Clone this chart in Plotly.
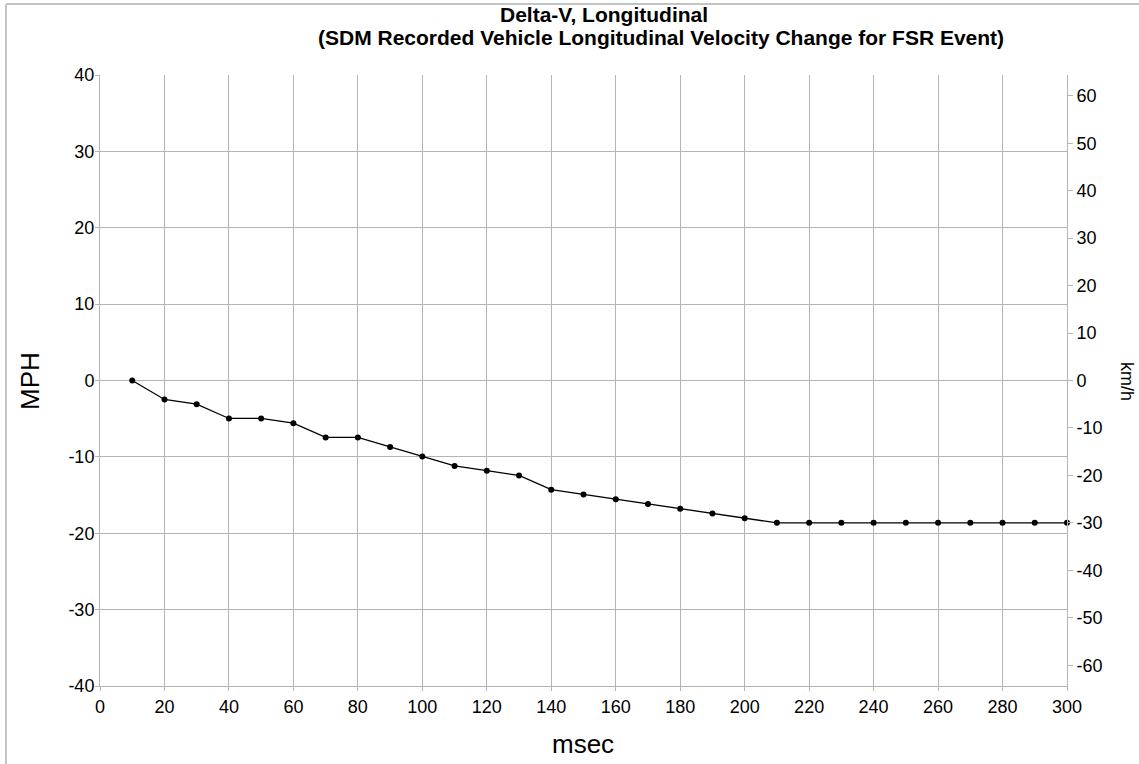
import plotly.graph_objects as go

# Data
time_ms = [10, 20, 30, 40, 50, 60, 70, 80, 90, 100, 110, 120, 130, 140, 150,
           160, 170, 180, 190, 200, 210, 220, 230, 240, 250, 260, 270, 280, 290, 300]
delta_v_kmh = [0, -4, -5, -8, -8, -9, -12, -12, -14, -16, -18, -19, -20, -23, -24,
               -25, -26, -27, -28, -29, -30, -30, -30, -30, -30, -30, -30, -30, -30, -30]
x_ticks = list(range(0, 301, 20))
mph_ticks = list(range(-40, 41, 10))
kmh_ticks = list(range(-60, 61, 10))

KMH_PER_MPH = 1.609344
W, H = 1139, 764
L, R, T, B = 100, 72, 74.5, 77.5
pw, ph = W - L - R, H - T - B

FONT = "Liberation Sans, Arial, sans-serif"
GRID = "#b4b4b4"


def px2paper_x(px):
    return (px - L) / pw


def py2paper_y(py):
    return (H - B - py) / ph


fig = go.Figure()
# empty trace so the left (MPH) axis is drawn
fig.add_trace(go.Scatter(x=[], y=[], yaxis="y", showlegend=False, hoverinfo="skip"))
fig.add_trace(go.Scatter(
    x=time_ms, y=delta_v_kmh, yaxis="y2", mode="lines+markers",
    line=dict(color="black", width=1.3),
    marker=dict(color="black", size=6),
    showlegend=False, cliponaxis=False,
))

fig.update_layout(
    width=W, height=H,
    margin=dict(l=L, r=R, t=T, b=B, autoexpand=False),
    paper_bgcolor="white", plot_bgcolor="white",
    font=dict(family=FONT, color="black"),
    xaxis=dict(
        range=[0, 300], tickvals=x_ticks, ticktext=[str(v) for v in x_ticks],
        showgrid=True, gridcolor=GRID, gridwidth=1,
        zeroline=False, showline=True, linecolor=GRID, ticks="outside", ticklen=4,
        tickcolor=GRID, tickfont=dict(size=18, family=FONT),
        fixedrange=True, automargin=False,
    ),
    yaxis=dict(
        range=[-40, 40], tickvals=mph_ticks, ticktext=[str(v) for v in mph_ticks],
        showgrid=True, gridcolor=GRID, gridwidth=1,
        zeroline=False, showline=True, linecolor=GRID, ticks="outside", ticklen=4,
        tickcolor=GRID, tickfont=dict(size=18, family=FONT), ticklabelstandoff=-3,
        fixedrange=True, automargin=False,
    ),
    yaxis2=dict(
        range=[-40 * KMH_PER_MPH, 40 * KMH_PER_MPH], tickvals=kmh_ticks,
        ticktext=[str(v) for v in kmh_ticks],
        overlaying="y", side="right", showgrid=False, zeroline=False,
        showline=True, linecolor=GRID, ticks="outside", ticklen=5, tickcolor=GRID,
        tickfont=dict(size=18, family=FONT),
        fixedrange=True, automargin=False,
    ),
    annotations=[
        dict(text="<b>Delta-V, Longitudinal</b>", xref="paper", yref="paper",
             x=px2paper_x(604), y=py2paper_y(14), showarrow=False,
             font=dict(size=21, family=FONT), xanchor="center", yanchor="middle"),
        dict(text="<b>(SDM Recorded Vehicle Longitudinal Velocity Change for FSR Event)</b>",
             xref="paper", yref="paper",
             x=px2paper_x(661), y=py2paper_y(37), showarrow=False,
             font=dict(size=21, family=FONT), xanchor="center", yanchor="middle"),
        dict(text="km/h", xref="paper", yref="paper",
             x=px2paper_x(1127), y=py2paper_y(381), showarrow=False, textangle=90,
             font=dict(size=18, family=FONT), xanchor="center", yanchor="middle"),
        dict(text="MPH", xref="paper", yref="paper",
             x=px2paper_x(30), y=py2paper_y(381), showarrow=False, textangle=-90,
             font=dict(size=26, family=FONT), xanchor="center", yanchor="middle"),
        dict(text="msec", xref="paper", yref="paper",
             x=px2paper_x(583), y=py2paper_y(745), showarrow=False,
             font=dict(size=26, family=FONT), xanchor="center", yanchor="middle"),
    ],
    shapes=[
        dict(type="line", xref="paper", yref="paper",
             x0=px2paper_x(6), x1=px2paper_x(6), y0=py2paper_y(3.5), y1=py2paper_y(766),
             line=dict(color="#c4c4c4", width=2)),
        dict(type="line", xref="paper", yref="paper",
             x0=px2paper_x(6), x1=px2paper_x(1141), y0=py2paper_y(3.5), y1=py2paper_y(3.5),
             line=dict(color="#c4c4c4", width=2)),
    ],
)

fig.write_html("out.html", config={"displayModeBar": False},
               post_script="document.body.style.margin='0';")
